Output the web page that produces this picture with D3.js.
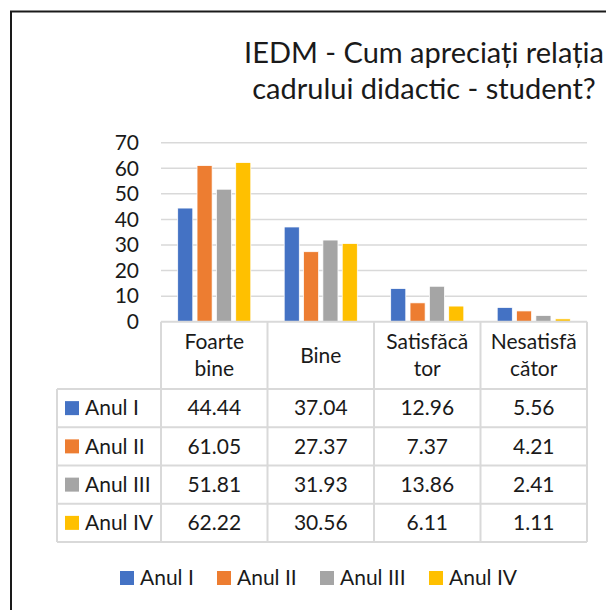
<!DOCTYPE html>
<html>
<head>
<meta charset="utf-8">
<script src="https://cdn.jsdelivr.net/npm/d3@7"></script>
<style>
  body { margin: 0; background: #fff; }
  svg { display: block; font-family: Lato, "Open Sans", sans-serif; }
</style>
</head>
<body>
<div id="chart"></div>
<script>
// chart data
var categories = ["Foarte bine", "Bine", "Satisfăcător", "Nesatisfăcător"];
var categoryLines = [["Foarte", "bine"], ["Bine"], ["Satisfăcă", "tor"], ["Nesatisfă", "cător"]];
var series = ["Anul I", "Anul II", "Anul III", "Anul IV"];
var anulI = [44.44, 37.04, 12.96, 5.56];
var anulII = [61.05, 27.37, 7.37, 4.21];
var anulIII = [51.81, 31.93, 13.86, 2.41];
var anulIV = [62.22, 30.56, 6.11, 1.11];
var yTicks = [0, 10, 20, 30, 40, 50, 60, 70];
var titleLines = ["IEDM - Cum apreciați relația", "cadrului didactic - student?"];

var seriesValues = [anulI, anulII, anulIII, anulIV];
var colour = d3.scaleOrdinal()
    .domain(series)
    .range(["#4472C4", "#ED7D31", "#A5A5A5", "#FFC000"]);

var width = 606, height = 610;
var gridColour = "#d9d9d9";

var svg = d3.select("#chart")
    .append("svg")
    .attr("width", width)
    .attr("height", height);

// outer chart frame (runs off the right and bottom)
svg.append("rect")
    .attr("x", 11).attr("y", 11.5)
    .attr("width", 1000).attr("height", 1000)
    .attr("fill", "none")
    .attr("stroke", "#1a1a1a")
    .attr("stroke-width", 2);

// title
svg.append("text")
    .attr("x", 424)
    .attr("y", 63)
    .attr("text-anchor", "middle")
    .style("font-size", "29px")
    .style("fill", "#1a1a1a")
    .selectAll("tspan")
    .data(titleLines)
    .enter()
    .append("tspan")
    .attr("x", 424)
    .attr("dy", function (d, i) { return i == 0 ? 0 : 36; })
    .text(function (d) { return d; });

var x = d3.scaleBand().domain(categories).range([161, 587]);
var x1 = d3.scaleBand().domain(series)
    .range([16.7, x.bandwidth() - 16.7])
    .paddingInner(0.22);
var y = d3.scaleLinear().domain([0, 70]).range([321.7, 142.7]);

// gridlines
svg.append("g")
    .selectAll("line")
    .data(yTicks.slice(1))
    .enter()
    .append("line")
    .attr("x1", 161).attr("x2", 587)
    .attr("y1", function (d) { return y(d); })
    .attr("y2", function (d) { return y(d); })
    .attr("stroke", gridColour)
    .attr("stroke-width", 1.5);

// y axis labels
var yAxis = svg.append("g")
    .attr("transform", "translate(161,0)")
    .call(d3.axisLeft(y).tickValues(yTicks).tickSize(0).tickPadding(22));
yAxis.select(".domain").remove();
yAxis.selectAll("text")
    .style("font-family", "Lato, 'Open Sans', sans-serif")
    .style("font-size", "21px")
    .style("fill", "#1a1a1a");

// bars
var groups = svg.append("g")
    .selectAll("g")
    .data(categories)
    .enter()
    .append("g")
    .attr("transform", function (d) { return "translate(" + x(d) + ",0)"; });

groups.selectAll("rect")
    .data(function (d, ci) {
        return series.map(function (s, si) {
            return { series: s, value: seriesValues[si][ci] };
        });
    })
    .enter()
    .append("rect")
    .attr("x", function (d) { return x1(d.series); })
    .attr("width", x1.bandwidth())
    .attr("y", function (d) { return y(d.value); })
    .attr("height", function (d) { return y(0) - y(d.value); })
    .attr("fill", function (d) { return colour(d.series); })
    .attr("stroke", "#fff")
    .attr("stroke-width", 0.75);

// data table
var rowY = d3.scaleBand().domain(series).range([389, 542]);
var table = svg.append("g");

table.append("line")
    .attr("x1", 161).attr("x2", 587)
    .attr("y1", y(0)).attr("y2", y(0))
    .attr("stroke", gridColour).attr("stroke-width", 2);

table.selectAll(".hline")
    .data(series.concat(["end"]))
    .enter()
    .append("line")
    .attr("class", "hline")
    .attr("x1", 57).attr("x2", 587)
    .attr("y1", function (d, i) { return 389 + i * rowY.bandwidth(); })
    .attr("y2", function (d, i) { return 389 + i * rowY.bandwidth(); })
    .attr("stroke", gridColour).attr("stroke-width", 2);

table.selectAll(".vline")
    .data(categories.concat(["end"]))
    .enter()
    .append("line")
    .attr("class", "vline")
    .attr("x1", function (d, i) { return i < categories.length ? x(d) : x.range()[1]; })
    .attr("x2", function (d, i) { return i < categories.length ? x(d) : x.range()[1]; })
    .attr("y1", y(0)).attr("y2", 542)
    .attr("stroke", gridColour).attr("stroke-width", 2);

table.append("line")
    .attr("x1", 57).attr("x2", 57)
    .attr("y1", 389).attr("y2", 542)
    .attr("stroke", gridColour).attr("stroke-width", 2);

// header labels
table.selectAll(".head")
    .data(categories)
    .enter()
    .append("text")
    .attr("class", "head")
    .attr("text-anchor", "middle")
    .style("font-size", "21px")
    .style("fill", "#1a1a1a")
    .each(function (d, i) {
        var lines = categoryLines[i];
        var cx = x(d) + x.bandwidth() / 2;
        var top = lines.length == 1 ? 363 : 349;
        d3.select(this).selectAll("tspan")
            .data(lines)
            .enter()
            .append("tspan")
            .attr("x", cx)
            .attr("y", function (l, j) { return top + j * 27; })
            .text(function (l) { return l; });
    });

// row labels with keys
var rows = table.selectAll(".row")
    .data(series)
    .enter()
    .append("g")
    .attr("class", "row")
    .attr("transform", function (d) { return "translate(0," + (rowY(d) + rowY.bandwidth() / 2) + ")"; });

rows.append("rect")
    .attr("x", 65).attr("y", -7)
    .attr("width", 14).attr("height", 14)
    .attr("fill", function (d) { return colour(d); });

rows.append("text")
    .attr("x", 85)
    .attr("dy", "0.35em")
    .style("font-size", "21px")
    .style("fill", "#1a1a1a")
    .text(function (d) { return d; });

rows.selectAll(".val")
    .data(function (d, si) { return seriesValues[si]; })
    .enter()
    .append("text")
    .attr("class", "val")
    .attr("x", function (v, ci) { return x(categories[ci]) + x.bandwidth() / 2; })
    .attr("dy", "0.35em")
    .attr("text-anchor", "middle")
    .style("font-size", "21px")
    .style("fill", "#1a1a1a")
    .text(function (v) { return v.toFixed(2); });

// legend
var legendX = d3.scaleOrdinal().domain(series).range([120, 217, 320, 429]);
var legend = svg.append("g")
    .selectAll("g")
    .data(series)
    .enter()
    .append("g")
    .attr("transform", function (d) { return "translate(" + legendX(d) + ",578)"; });

legend.append("rect")
    .attr("x", 0).attr("y", -7)
    .attr("width", 14).attr("height", 14)
    .attr("fill", function (d) { return colour(d); });

legend.append("text")
    .attr("x", 20)
    .attr("dy", "0.35em")
    .style("font-size", "21px")
    .style("fill", "#1a1a1a")
    .text(function (d) { return d; });
</script>
</body>
</html>
